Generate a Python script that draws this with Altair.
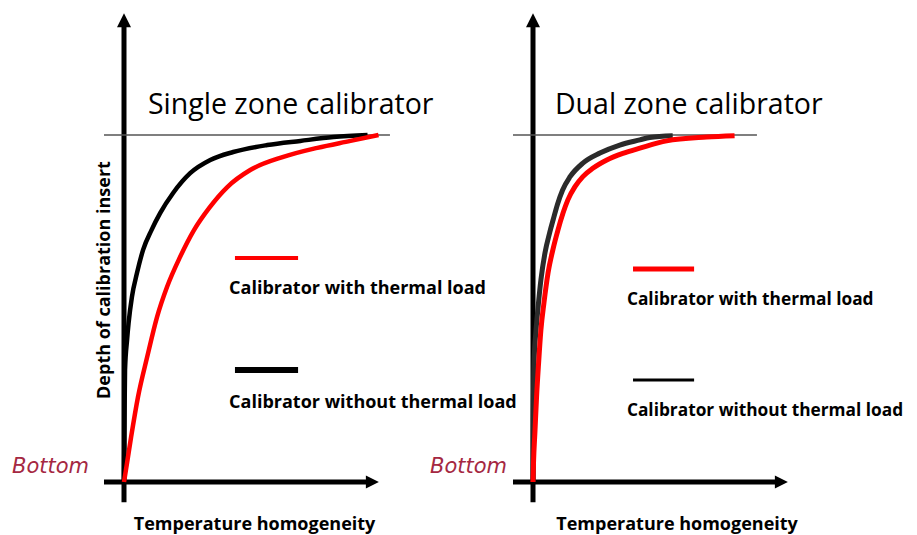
import altair as alt
import pandas as pd

# ---------------- data (x: temperature homogeneity, y: depth, both 0..100) ----------------
single_red_x = [0, 1.2, 2.8, 5.5, 9.1, 13.0, 16.9, 22.0, 27.5, 33.5, 40.6, 49.6, 62.6, 76.0, 89.0, 100]
single_red_y = [0, 5.5, 13.0, 24.5, 36.0, 47.6, 56.2, 64.8, 72.6, 79.0, 85.0, 89.9, 93.7, 96.3, 98.3, 100]
single_blk_x = [0, 0.2, 0.4, 1.2, 1.8, 3.1, 5.1, 7.5, 10.8, 14.2, 19.3, 26.0, 33.9, 42.9, 56.3, 69.3, 82.3, 95.7]
single_blk_y = [0, 17.9, 32.3, 40.9, 45.8, 53.3, 60.2, 66.9, 72.6, 77.5, 83.3, 89.0, 92.8, 95.1, 97.1, 98.3, 99.4, 100]

dual_red_x = [0, 0.2, 0.8, 1.4, 2.2, 3.1, 4.3, 5.9, 7.8, 9.8, 11.8, 13.7, 16.5, 19.6, 23.5, 29.0, 35.3, 42.0, 52.5, 68.2, 79.2]
dual_red_y = [0, 5.5, 15.0, 24.5, 34.3, 43.8, 51.6, 60.2, 66.9, 72.6, 77.5, 81.3, 85.1, 88.0, 90.4, 92.8, 94.7, 96.2, 98.3, 99.4, 99.8]
dual_blk_x = [0, 0.1, 0.4, 1.2, 2.0, 3.1, 4.7, 6.6, 8.0, 9.6, 11.6, 14.5, 19.6, 26.3, 34.1, 42.0, 45.9, 54.9]
dual_blk_y = [0, 17.9, 34.3, 43.8, 50.4, 58.2, 66.0, 72.0, 75.8, 80.0, 84.1, 87.9, 91.9, 94.8, 97.1, 98.6, 99.3, 99.8]

titles = ["Single zone calibrator", "Dual zone calibrator"]
legend_labels = ["Calibrator with thermal load", "Calibrator without thermal load"]
x_title = "Temperature homogeneity"
y_title = "Depth of calibration insert"
bottom_label = "Bottom"

# ---------------- layout ----------------
PAGE_H = 535
MARGIN = 8
KX = 2.545      # px per x unit
KY = 3.47       # px per y unit
ORIGIN_Y = 482  # page y of depth 0
FONT = "Open Sans"
BOTTOM_FONT = "DejaVu Sans"
BOTTOM_COLOR = "#a52842"
LABEL_SIZE = 18


def panel(origin_x, left_edge, right_edge, red_x, red_y, blk_x, blk_y, blk_color,
          title, title_x, top_line_end, leg, show_y_title, bottom_x, xtitle_x,
          curve_w):
    width = right_edge - left_edge
    height = PAGE_H - 2 * MARGIN
    xdom = [(left_edge - origin_x) / KX, (right_edge - origin_x) / KX]
    ydom = [(ORIGIN_Y - (MARGIN + height)) / KY, (ORIGIN_Y - MARGIN) / KY]
    xs = alt.Scale(domain=xdom, nice=False, zero=False)
    ys = alt.Scale(domain=ydom, nice=False, zero=False)

    def X(f):
        return alt.X(f, type="quantitative", scale=xs, axis=None)

    def Y(f):
        return alt.Y(f, type="quantitative", scale=ys, axis=None)

    layers = []
    # vertical axis
    vdf = pd.DataFrame({"x": [0], "y": [-5.8], "y2": [131.7]})
    layers.append(alt.Chart(vdf).mark_rule(color="black", strokeWidth=5).encode(
        x=X("x"), y=Y("y"), y2="y2"))
    layers.append(alt.Chart(pd.DataFrame({"x": [0], "y": [133.1]})).mark_point(
        shape="M0,-1L1,1L-1,1Z", filled=True, size=196, color="black", opacity=1,
        strokeWidth=0).encode(x=X("x"), y=Y("y")))
    # horizontal axis
    hdf = pd.DataFrame({"x": [-7.86], "x2": [95.5], "y": [0]})
    layers.append(alt.Chart(hdf).mark_rule(color="black", strokeWidth=5).encode(
        x=X("x"), x2="x2", y=Y("y")))
    layers.append(alt.Chart(pd.DataFrame({"x": [97.6], "y": [0]})).mark_point(
        shape="M-1,-1L1,0L-1,1Z", filled=True, size=169, color="black", opacity=1,
        strokeWidth=0).encode(x=X("x"), y=Y("y")))
    # top reference line
    tdf = pd.DataFrame({"x": [-7.86], "x2": [top_line_end], "y": [100]})
    layers.append(alt.Chart(tdf).mark_rule(color="#555555", strokeWidth=1.5).encode(
        x=X("x"), x2="x2", y=Y("y")))
    # curves
    bdf = pd.DataFrame({"x": blk_x, "y": blk_y, "o": list(range(len(blk_x)))})
    layers.append(alt.Chart(bdf).mark_line(color=blk_color, strokeWidth=curve_w,
                                           interpolate="monotone").encode(
        x=X("x"), y=Y("y"), order="o:Q"))
    rdf = pd.DataFrame({"x": red_x, "y": red_y, "o": list(range(len(red_x)))})
    layers.append(alt.Chart(rdf).mark_line(color="#ff0000", strokeWidth=curve_w,
                                           interpolate="monotone").encode(
        x=X("x"), y=Y("y"), order="o:Q"))
    # legend swatches
    ldf = pd.DataFrame({"x": [leg["sx"], leg["sx"]], "x2": [leg["sx2"], leg["sx2"]],
                        "y": [leg["ry"], leg["by"]]})
    layers.append(alt.Chart(ldf.iloc[[0]]).mark_rule(color="#ff0000", strokeWidth=leg["rw"]).encode(
        x=X("x"), x2="x2", y=Y("y")))
    layers.append(alt.Chart(ldf.iloc[[1]]).mark_rule(color="black", strokeWidth=leg["bw"]).encode(
        x=X("x"), x2="x2", y=Y("y")))
    # legend texts
    ltdf = pd.DataFrame({"x": [leg["tx"], leg["tx"]], "y": [leg["t1y"], leg["t2y"]],
                         "t": legend_labels})
    layers.append(alt.Chart(ltdf).mark_text(font=FONT, fontSize=leg["fs"], fontWeight="bold",
                                            align="left", baseline="middle", color="black").encode(
        x=X("x"), y=Y("y"), text="t:N"))
    # title
    layers.append(alt.Chart(pd.DataFrame({"x": [title_x], "y": [108.6], "t": [title]})).mark_text(
        font=FONT, fontSize=28.5, align="left", baseline="middle", color="black").encode(
        x=X("x"), y=Y("y"), text="t:N"))
    # bottom label
    layers.append(alt.Chart(pd.DataFrame({"x": [bottom_x], "y": [4.3], "t": [bottom_label]})).mark_text(
        font=BOTTOM_FONT, fontSize=21, fontStyle="italic", align="right", baseline="middle",
        color=BOTTOM_COLOR).encode(x=X("x"), y=Y("y"), text="t:N"))
    # x title
    layers.append(alt.Chart(pd.DataFrame({"x": [xtitle_x], "y": [-12.4], "t": [x_title]})).mark_text(
        font=FONT, fontSize=LABEL_SIZE, fontWeight="bold", align="center", baseline="middle",
        color="black").encode(x=X("x"), y=Y("y"), text="t:N"))
    if show_y_title:
        layers.append(alt.Chart(pd.DataFrame({"x": [-7.5], "y": [58.2], "t": [y_title]})).mark_text(
            font=FONT, fontSize=LABEL_SIZE, fontWeight="bold", align="center", baseline="middle",
            angle=270, color="black").encode(x=X("x"), y=Y("y"), text="t:N"))

    return alt.layer(*layers).properties(width=width, height=height)


left = panel(124, 8, 418, single_red_x, single_red_y, single_blk_x, single_blk_y, "#000000",
             titles[0], 9.4, 104.5,
             dict(sx=43.6, sx2=68.4, ry=64.55, by=32.3, rw=4, bw=6, tx=41.3, t1y=55.6, t2y=22.8,
                  fs=LABEL_SIZE),
             True, -13.75, 51.3, 4.5)
right = panel(533, 418, 909, dual_red_x, dual_red_y, dual_blk_x, dual_blk_y, "#2b2b2b",
              titles[1], 8.6, 88.0,
              dict(sx=39.3, sx2=63.3, ry=61.4, by=29.4, rw=5, bw=3, tx=36.9, t1y=52.4, t2y=20.5,
                   fs=17.3),
              False, -10.2, 56.6, 5)

chart = alt.hconcat(left, right, spacing=0, bounds="flush").properties(
    padding=0, background="white"
).configure_view(stroke=None)

chart.save("out.html", embed_options={"renderer": "svg", "actions": False})
